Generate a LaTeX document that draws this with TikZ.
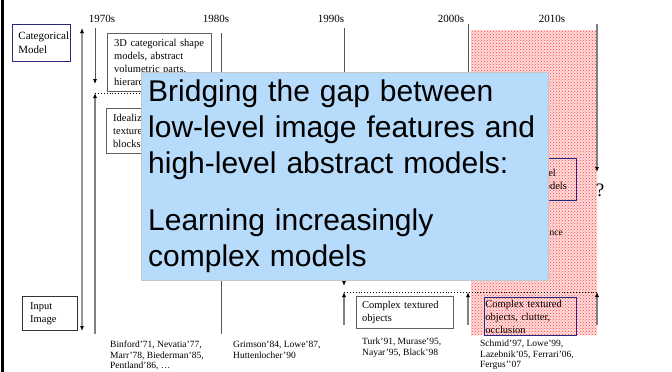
\documentclass[tikz,border=0pt]{standalone}
\usepackage{fontspec}
\setmainfont{Liberation Serif}
\newfontfamily\slidefont{Liberation Sans}
\usetikzlibrary{arrows.meta,patterns}
\definecolor{navyline}{RGB}{40,40,130}
\definecolor{calloutblue}{RGB}{183,219,250}
\definecolor{tickgray}{RGB}{85,85,85}

\begin{document}
\begin{tikzpicture}[x=1pt, y=-1pt,
    every node/.style={font=\fontsize{10.5}{13}\selectfont, align=left, inner sep=0pt},
    box/.style={rectangle, draw=gray!75!black, anchor=north west, inner xsep=7pt},
    navybox/.style={rectangle, draw=navyline, line width=0.9pt, anchor=north west, inner xsep=6pt},
    era/.style={font=\fontsize{11}{13}\selectfont, anchor=base},
    refs/.style={font=\fontsize{9.5}{10.5}\selectfont, anchor=north west},
    tick/.style={draw=tickgray, line width=0.8pt},
    uptick/.style={draw=gray, line width=1.1pt},
    arr/.style={-{Latex[length=5pt, width=4pt, black]}},
    gap/.style={black, line width=0.9pt, dotted}
]
\useasboundingbox (0,0) rectangle (672,372);

% 2000s--2010s band
\fill[red!14] (471,30) rectangle (597,335);
\fill[pattern=crosshatch dots, pattern color=red!75] (471,30) rectangle (597,335);

% slide edge
\draw[line width=2.5pt] (2.5,0) -- (2.5,372);

% decades
\node[era] (d70) at (102,22) {1970s};
\node[era] (d80) at (216,22) {1980s};
\node[era] (d90) at (331,22) {1990s};
\node[era] (d00) at (451,22) {2000s};
\node[era] (d10) at (552,22) {2010s};

% model <-> image axis
\node[navybox, minimum width=58pt, minimum height=37pt, text width=46pt,
      font=\fontsize{11}{14}\selectfont] (catmodel) at (12,24) {Categorical\\Model};
\node[box, draw=black!80, minimum width=55pt, minimum height=34pt, text width=39pt,
      inner xsep=8pt] (inimage) at (22,296) {Input\\Image};
\coordinate (axtop) at (82,28);
\coordinate (axbot) at (82,331);
\draw[draw=gray!80, line width=1.5pt, {Latex[length=5pt, width=4pt, black]}-{Latex[length=5pt, width=4pt, black]}]
    (axtop) -- (axbot);

% time lines
\coordinate (t70a) at (95,28);
\coordinate (t70b) at (95,84);
\coordinate (t70c) at (95,93);
\coordinate (t70d) at (95,334);
\coordinate (t80a) at (221,33);
\coordinate (t80b) at (221,93);
\coordinate (t80d) at (221,334);
\coordinate (t90a) at (344,28);
\coordinate (t90b) at (344,286);
\coordinate (t90c) at (344,292);
\coordinate (t90d) at (344,325);
\coordinate (t00a) at (468,24);
\coordinate (t00b) at (468,270);
\coordinate (t00c) at (468,292);
\coordinate (t00d) at (468,325);
\coordinate (t10a) at (597,24);
\coordinate (t10b) at (597,172);
\coordinate (t10c) at (597,292);
\coordinate (t10d) at (597,325);

\draw[tick, arr] (t70a) -- (t70b);
\draw[uptick, arr] (t70d) -- (t70c);
\draw[gap] (t70c) -- (t80b);
\draw[tick] (t80a) -- (t80d);
\draw[tick, arr] (t90a) -- (t90b);
\draw[uptick, arr] (t90d) -- (t90c);
\draw[gap] (t90c) -- (t10c);
\draw[tick] (t00a) -- (t00b);
\draw[uptick, arr] (t00d) -- (t00c);
\draw[uptick, arr] (t10a) -- (t10b);
\draw[uptick, arr] (t10d) -- (t10c);
\node[font=\fontsize{19}{20}\selectfont] (qmark) at (600,190) {?};

% eras
\node[box, minimum width=104pt, minimum height=58pt, text width=90pt, fill=white] (shape3d) at (107,33)
    {3D categorical shape\\models, abstract\\volumetric parts,\\hierarchies};
\node[box, minimum width=95pt, minimum height=45pt, text width=81pt, fill=white] (blocks) at (106,108)
    {Idealized\\textured\\blocks};
\node[navybox, minimum width=86pt, minimum height=42pt, text width=80pt, inner xsep=3pt] (catlevel) at (490,158)
    {Category-level\\statistical models};
\node[font=\fontsize{9.5}{11}\selectfont, anchor=base east] (appear) at (563,235) {Appearance};

% callout
\node[anchor=north west, fill=calloutblue, draw=gray!45, minimum width=407pt, minimum height=208pt,
      text width=393pt, inner xsep=7pt, font=\slidefont\fontsize{30}{36}\selectfont] (bridge) at (141,72)
    {Bridging the gap between\\low-level image features and\\high-level abstract models:\\[21pt]Learning increasingly\\complex models};

% image-level eras
\node[box, minimum width=97pt, minimum height=32pt, text width=85pt, inner xsep=6pt] (textured) at (356,296)
    {Complex textured\\objects};
\node[navybox, minimum width=92pt, minimum height=38pt, text width=90pt, inner xsep=1pt] (clutter) at (484,297)
    {Complex textured\\objects, clutter,\\occlusion};

% references
\node[refs] (r70) at (110,341) {Binford’71, Nevatia’77,\\Marr’78, Biederman’85,\\Pentland’86, …};
\node[refs] (r80) at (233,341) {Grimson’84, Lowe’87,\\Huttenlocher’90};
\node[refs] (r90) at (362,338) {Turk’91, Murase’95,\\Nayar’95, Black’98};
\node[refs] (r00) at (480,340) {Schmid’97, Lowe’99,\\Lazebnik’05, Ferrari’06,\\Fergus’’07};
\end{tikzpicture}
\end{document}
